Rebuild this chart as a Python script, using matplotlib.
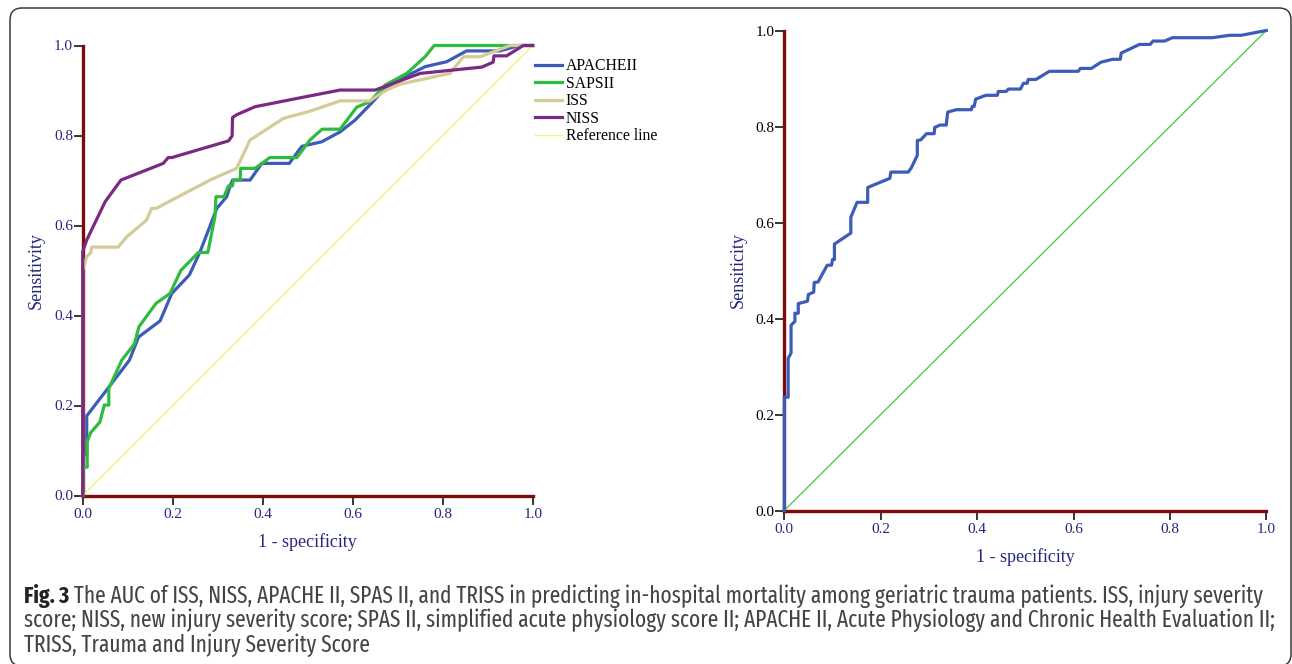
import matplotlib
matplotlib.use('Agg')
import matplotlib.pyplot as plt
from matplotlib import font_manager
from matplotlib.patches import FancyBboxPatch
from matplotlib.transforms import IdentityTransform

# ---------------- data ----------------
apache_fpr = [0.0, 0.0, 0.009, 0.009, 0.059, 0.104, 0.124, 0.172, 0.198, 0.237, 0.261, 0.298, 0.320, 0.327,
              0.333, 0.372, 0.398, 0.459, 0.487, 0.531, 0.572, 0.605, 0.642, 0.672, 0.709, 0.761, 0.809,
              0.853, 0.927, 0.971, 1.0]
apache_tpr = [0.0, 0.090, 0.090, 0.177, 0.242, 0.301, 0.352, 0.388, 0.449, 0.490, 0.542, 0.638, 0.664, 0.686,
              0.701, 0.701, 0.738, 0.738, 0.776, 0.786, 0.808, 0.834, 0.872, 0.905, 0.927, 0.953, 0.964,
              0.988, 0.988, 1.0, 1.0]

sapsii_fpr = [0.0, 0.0, 0.010, 0.010, 0.018, 0.038, 0.048, 0.058, 0.058, 0.087, 0.115, 0.125, 0.163, 0.194,
              0.218, 0.257, 0.278, 0.294, 0.296, 0.314, 0.324, 0.333, 0.335, 0.350, 0.351, 0.383, 0.416,
              0.476, 0.505, 0.532, 0.572, 0.609, 0.638, 0.672, 0.720, 0.761, 0.781, 1.0]
sapsii_tpr = [0.0, 0.063, 0.063, 0.120, 0.140, 0.163, 0.201, 0.201, 0.238, 0.301, 0.337, 0.375, 0.427, 0.449,
              0.500, 0.540, 0.540, 0.620, 0.664, 0.664, 0.688, 0.688, 0.701, 0.701, 0.727, 0.727, 0.751,
              0.751, 0.790, 0.814, 0.814, 0.863, 0.875, 0.912, 0.938, 0.975, 1.0, 1.0]

iss_fpr = [0.0, 0.0, 0.009, 0.018, 0.020, 0.079, 0.098, 0.142, 0.153, 0.163, 0.283, 0.342, 0.372, 0.446,
           0.505, 0.572, 0.638, 0.675, 0.705, 0.816, 0.846, 0.883, 0.950, 1.0]
iss_tpr = [0.0, 0.500, 0.531, 0.540, 0.552, 0.552, 0.575, 0.612, 0.638, 0.638, 0.701, 0.727, 0.790, 0.838,
           0.854, 0.877, 0.877, 0.901, 0.914, 0.938, 0.975, 0.975, 1.0, 1.0]

niss_fpr = [0.0, 0.0, 0.009, 0.050, 0.085, 0.179, 0.190, 0.198, 0.324, 0.332, 0.333, 0.342, 0.383, 0.505,
            0.572, 0.650, 0.750, 0.887, 0.912, 0.914, 0.942, 0.979, 1.0]
niss_tpr = [0.0, 0.542, 0.568, 0.653, 0.701, 0.738, 0.751, 0.751, 0.788, 0.799, 0.840, 0.846, 0.864, 0.888,
            0.901, 0.901, 0.938, 0.952, 0.963, 0.977, 0.977, 1.0, 1.0]

triss_fpr = [0.0, 0.0, 0.008, 0.008, 0.014, 0.014, 0.022, 0.022, 0.029, 0.029, 0.048, 0.050, 0.061, 0.062,
             0.070, 0.089, 0.098, 0.100, 0.104, 0.104, 0.138, 0.138, 0.151, 0.173, 0.173, 0.219, 0.221,
             0.257, 0.263, 0.276, 0.276, 0.283, 0.295, 0.311, 0.312, 0.323, 0.336, 0.339, 0.357, 0.388,
             0.390, 0.394, 0.397, 0.418, 0.442, 0.444, 0.460, 0.465, 0.490, 0.496, 0.504, 0.506, 0.522,
             0.550, 0.610, 0.614, 0.637, 0.657, 0.681, 0.697, 0.699, 0.737, 0.759, 0.765, 0.789, 0.805,
             0.888, 0.924, 0.948, 1.0]
triss_tpr = [0.0, 0.236, 0.236, 0.317, 0.328, 0.386, 0.394, 0.411, 0.411, 0.431, 0.436, 0.450, 0.455, 0.475,
             0.476, 0.511, 0.511, 0.523, 0.523, 0.555, 0.578, 0.611, 0.642, 0.642, 0.673, 0.692, 0.705,
             0.705, 0.713, 0.740, 0.771, 0.772, 0.785, 0.785, 0.798, 0.803, 0.803, 0.830, 0.835, 0.835,
             0.842, 0.842, 0.857, 0.865, 0.865, 0.873, 0.873, 0.878, 0.878, 0.890, 0.890, 0.898, 0.898,
             0.915, 0.915, 0.921, 0.921, 0.934, 0.940, 0.940, 0.953, 0.971, 0.971, 0.978, 0.978, 0.985,
             0.985, 0.990, 0.990, 1.0]

ref_xy = [0.0, 1.0]
ticks = [0.0, 0.2, 0.4, 0.6, 0.8, 1.0]
tick_labels = ['0.0', '0.2', '0.4', '0.6', '0.8', '1.0']
legend_labels = ['APACHEII', 'SAPSII', 'ISS', 'NISS', 'Reference line']

caption_bold = 'Fig. 3'
caption_lines = [
    ' The AUC of ISS, NISS, APACHE II, SPAS II, and TRISS in predicting in-hospital mortality among geriatric trauma patients. ISS, injury severity',
    'score; NISS, new injury severity score; SPAS II, simplified acute physiology score II; APACHE II, Acute Physiology and Chronic Health Evaluation II;',
    'TRISS, Trauma and Injury Severity Score',
]

# ---------------- style ----------------
W, H = 1292, 664
SERIF = ['Liberation Serif', 'DejaVu Serif']
avail = {f.name for f in font_manager.fontManager.ttflist}
cap_fams = [f for f in ['Fira Sans Extra Condensed', 'Fira Sans Condensed', 'Roboto Condensed', 'Open Sans',
                        'DejaVu Sans'] if f in avail]
NAVY = '#262680'
MAROON = '#7a0c0c'
C_BLUE = '#3d5cb8'
C_GREEN = '#2fbb3f'
C_TAN = '#d3cb98'
C_PURPLE = '#7b2a82'
C_YELLOW = '#f7f37a'

fig = plt.figure(figsize=(W / 100, H / 100), dpi=100)


def px_axes(x0, x1, y_top, y_bot):
    return fig.add_axes([x0 / W, (H - y_bot) / H, (x1 - x0) / W, (y_bot - y_top) / H])


def style_axes(ax, ylab, ytick_color, xl_y, yl_x):
    ax.set_xlim(0, 1)
    ax.set_ylim(0, 1)
    for s in ['top', 'right']:
        ax.spines[s].set_visible(False)
    for s in ['left', 'bottom']:
        ax.spines[s].set_color(MAROON)
        ax.spines[s].set_linewidth(2.4)
        ax.spines[s].set_zorder(2.5)
    ax.set_xticks(ticks)
    ax.set_yticks(ticks)
    ax.set_xticklabels(tick_labels, family=SERIF, fontsize=11, color=NAVY)
    ax.set_yticklabels(tick_labels, family=SERIF, fontsize=11, color=ytick_color)
    ax.tick_params(axis='both', direction='out', length=6.5, width=1.1, color='black')
    ax.tick_params(axis='y', pad=0.5)
    ax.tick_params(axis='x', pad=2.5)
    ax.set_xlabel('1 - specificity', family=SERIF, fontsize=13, color=NAVY)
    ax.set_ylabel(ylab, family=SERIF, fontsize=13, color=NAVY)
    ax.xaxis.set_label_coords(0.5, xl_y)
    ax.xaxis.label.set_va('center')
    ax.yaxis.set_label_coords(yl_x, 0.5)
    ax.yaxis.label.set_va('center')


# left panel
ax1 = px_axes(82.7, 532.7, 45.5, 495.5)
style_axes(ax1, 'Sensitivity', NAVY, (495.5 - 542) / 450, (36.6 - 82.7) / 450)
lw = 2.3
ax1.plot(apache_fpr, apache_tpr, color=C_BLUE, lw=lw, zorder=3, clip_on=False, label=legend_labels[0])
ax1.plot(sapsii_fpr, sapsii_tpr, color=C_GREEN, lw=lw, zorder=3.1, clip_on=False, label=legend_labels[1])
ax1.plot(iss_fpr, iss_tpr, color=C_TAN, lw=lw, zorder=3.2, clip_on=False, label=legend_labels[2])
ax1.plot(niss_fpr, niss_tpr, color=C_PURPLE, lw=lw, zorder=3.3, clip_on=False, label=legend_labels[3])
ax1.plot(ref_xy, ref_xy, color=C_YELLOW, lw=1.0, zorder=2.8, clip_on=False, label=legend_labels[4])
handles, labels = ax1.get_legend_handles_labels()
leg = ax1.legend(handles, labels, loc='upper left', bbox_to_anchor=((535 - 82.7) / 450, (495.5 - 58) / 450),
                 frameon=False, borderpad=0, borderaxespad=0, handlelength=1.75, handletextpad=0.2,
                 labelspacing=0.1, prop={'family': SERIF, 'size': 11.3})

# right panel
ax2 = px_axes(784.3, 1266.3, 30.5, 510.5)
style_axes(ax2, 'Sensiticity', 'black', (510.5 - 557) / 480, (738 - 784.3) / 482)
ax2.plot(ref_xy, ref_xy, color='#3cc83c', lw=0.9, zorder=2.8, clip_on=False)
ax2.plot(triss_fpr, triss_tpr, color=C_BLUE, lw=2.3, zorder=3, clip_on=False)

# frame
frame = FancyBboxPatch((10, -2), 1281, 658, boxstyle='round,pad=0,rounding_size=12',
                       transform=IdentityTransform(), fill=False, edgecolor='#3a3a3a', lw=1.1)
fig.patches.append(frame)

# caption
renderer = fig.canvas.get_renderer()
fs = 14.5
x_left = 24 / W
ys = [596, 620.5, 645]
tb = fig.text(x_left, 1 - ys[0] / H, caption_bold, family=cap_fams, fontsize=fs, fontweight='bold',
              color='#222222', va='center', ha='left')
t1 = fig.text(0, 1 - ys[0] / H, caption_lines[0], family=cap_fams, fontsize=fs, fontweight='normal',
              color='#444444', va='center', ha='left')
wb = tb.get_window_extent(renderer).width
w1 = t1.get_window_extent(renderer).width
target = 1265 - 24
scale = target / (wb + w1)
fs2 = fs * scale
tb.set_fontsize(fs2)
t1.set_fontsize(fs2)
wb = tb.get_window_extent(renderer).width
t1.set_x((24 + wb) / W)
for y, line in zip(ys[1:], caption_lines[1:]):
    fig.text(x_left, 1 - y / H, line, family=cap_fams, fontsize=fs2, fontweight='normal', color='#444444',
             va='center', ha='left')

fig.savefig('out.png', dpi=100)
